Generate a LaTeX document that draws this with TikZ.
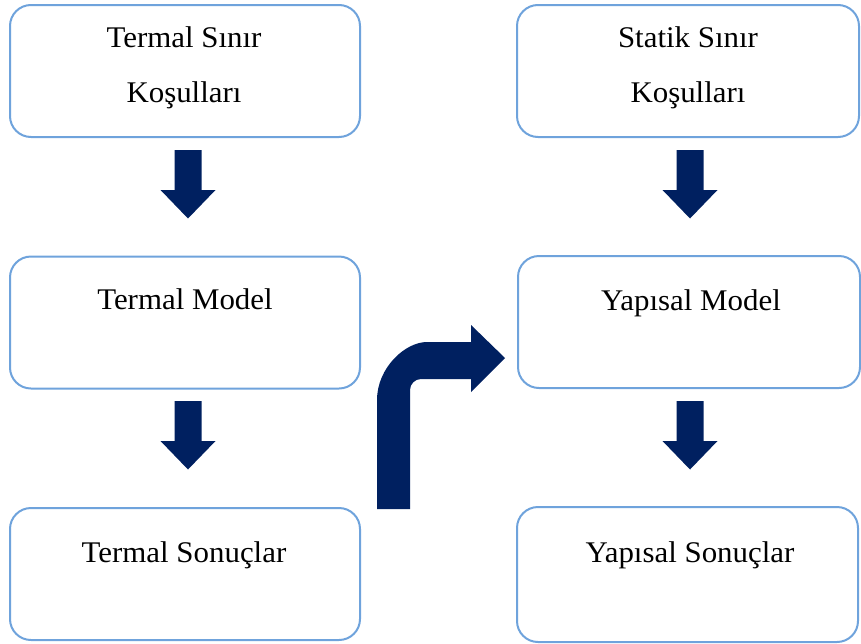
\documentclass[tikz,border=0pt]{standalone}
\usepackage{fontspec}
\setmainfont{Liberation Serif}
\definecolor{navy}{HTML}{002060}
\definecolor{boxblue}{HTML}{6FA3DC}
\newcommand\widetxt[1]{\scalebox{1.03}[1]{#1}}
\tikzset{
  box/.style={draw=boxblue, line width=2pt, rounded corners=21pt, fill=white,
    minimum width=#1, minimum height=132pt, inner sep=0pt},
  lbl/.style={anchor=base, inner sep=0pt, font=\fontsize{30}{30}\selectfont, text=black},
  pics/downarr/.style={code={
    \fill[navy] (-13.5,0) -- (13.5,0) -- (13.5,40) -- (27.5,40) -- (0,68.5)
      -- (-27.5,40) -- (-13.5,40) -- cycle;}}
}
\begin{document}
\begin{tikzpicture}[x=1pt, y=-1pt]
\useasboundingbox (0,0) rectangle (861,643);
% boxes
\node[box=350pt] (b1) at (185,71) {};
\node[box=342pt] (b2) at (688,71) {};
\node[box=350pt] (b3) at (185,322.5) {};
\node[box=342pt] (b4) at (689,322) {};
\node[box=350pt] (b5) at (185,574) {};
\node[box=341pt, minimum height=135pt] (b6) at (687.5,574.5) {};
% texts
\node[lbl] (t1a) at (184,47) {\widetxt{Termal Sınır}};
\node[lbl] (t1b) at (184,102) {\widetxt{Koşulları}};
\node[lbl] (t2a) at (688,47) {\widetxt{Statik Sınır}};
\node[lbl] (t2b) at (688,102) {\widetxt{Koşulları}};
\node[lbl] (t3) at (185,309) {\widetxt{Termal Model}};
\node[lbl] (t4) at (691,310) {\widetxt{Yapısal Model}};
\node[lbl] (t5) at (184,562) {\widetxt{Termal Sonuçlar}};
\node[lbl] (t6) at (690,562) {\widetxt{Yapısal Sonuçlar}};
% down arrows
\path (b1.south) ++(3,12) pic {downarr};
\path (b3.south) ++(3,11.5) pic {downarr};
\path (b2.south) ++(2,12) pic {downarr};
\path (b4.south) ++(1,12) pic {downarr};
% bent arrow towards Yapısal Model
\fill[navy] (377,509) -- (377,400) .. controls (377,368) and (405,342) .. (427,342)
  -- (471,342) -- (471,325) -- (505,358) -- (471,392) -- (471,379) -- (421,379)
  .. controls (415,379) and (410,384) .. (410,390) -- (410,509) -- cycle;
\end{tikzpicture}
\end{document}
